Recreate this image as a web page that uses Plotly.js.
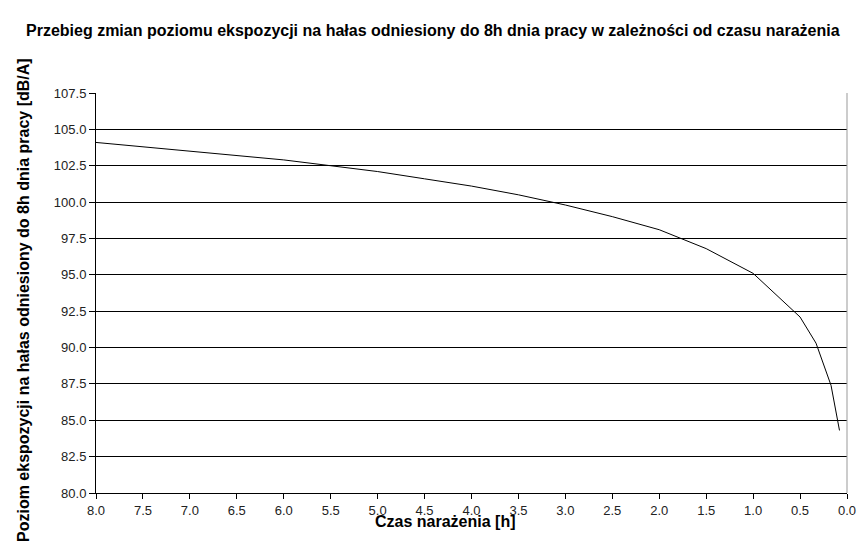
<!DOCTYPE html>
<html>
<head>
<meta charset="utf-8">
<script src="https://cdn.plot.ly/plotly-3.0.1.min.js"></script>
<style>html,body{margin:0;padding:0;background:#fff;}#chart{width:866px;height:548px;}</style>
</head>
<body>
<div id="chart"></div>
<script>
const czas = [8, 7.5, 7, 6.5, 6, 5.5, 5, 4.5, 4, 3.5, 3, 2.5, 2, 1.5, 1, 0.5, 0.33, 0.17, 0.08];
const poziom = [104.1, 103.8, 103.5, 103.2, 102.9, 102.5, 102.1, 101.6, 101.1, 100.5, 99.8, 99.0, 98.1, 96.8, 95.1, 92.1, 90.3, 87.4, 84.3];
const tytul = "Przebieg zmian poziomu ekspozycji na hałas odniesiony do 8h dnia pracy w zależności od czasu narażenia";
const tytulX = "Czas narażenia [h]";
const tytulY = "Poziom ekspozycji na hałas odniesiony do 8h dnia pracy [dB/A]";

const font = "Liberation Sans, Arial, sans-serif";
Plotly.newPlot('chart', [{
  x: czas, y: poziom, type: 'scatter', mode: 'lines',
  line: {color: '#000', width: 1}, hoverinfo: 'skip'
}], {
  width: 866, height: 548,
  margin: {l: 96, r: 19, t: 93, b: 55},
  paper_bgcolor: '#fff', plot_bgcolor: '#fff',
  showlegend: false,
  font: {family: font, size: 13, color: '#222'},
  xaxis: {
    range: [8, 0], dtick: 0.5, tick0: 0, tickformat: '.1f',
    showgrid: false, zeroline: false,
    showline: true, linecolor: '#000', linewidth: 1,
    ticks: 'outside', ticklen: 5, tickcolor: '#000',
    tickfont: {family: font, size: 13, color: '#222'}
  },
  yaxis: {
    range: [80, 107.5], dtick: 2.5, tick0: 80, tickformat: '.1f',
    showgrid: true, gridcolor: '#000', gridwidth: 1, zeroline: false,
    showline: true, linecolor: '#000', linewidth: 1,
    ticks: 'outside', ticklen: 6, tickcolor: '#000',
    tickfont: {family: font, size: 13, color: '#222'}
  },
  shapes: [{type: 'line', xref: 'paper', yref: 'paper', x0: 1, x1: 1, y0: 0, y1: 1,
            line: {color: '#999', width: 1}}],
  annotations: [
    {text: '<b>' + tytul + '</b>', xref: 'paper', yref: 'paper', xanchor: 'center',
     x: (433-96)/(847-96), y: 1 + (93-30)/400, yanchor: 'middle', showarrow: false,
     font: {family: font, size: 16, color: '#000'}},
    {text: '<b>' + tytulX + '</b>', xref: 'paper', yref: 'paper',
     x: (445-96)/(847-96), xanchor: 'center', y: -(521-493)/400, yanchor: 'middle', showarrow: false,
     font: {family: font, size: 16, color: '#000'}},
    {text: '<b>' + tytulY + '</b>', xref: 'paper', yref: 'paper', textangle: -90,
     x: -(96-23)/(847-96), xanchor: 'center', y: (493-300)/400, yanchor: 'middle', showarrow: false,
     font: {family: font, size: 16, color: '#000'}}
  ]
}, {displayModeBar: false, staticPlot: true});
</script>
</body>
</html>
